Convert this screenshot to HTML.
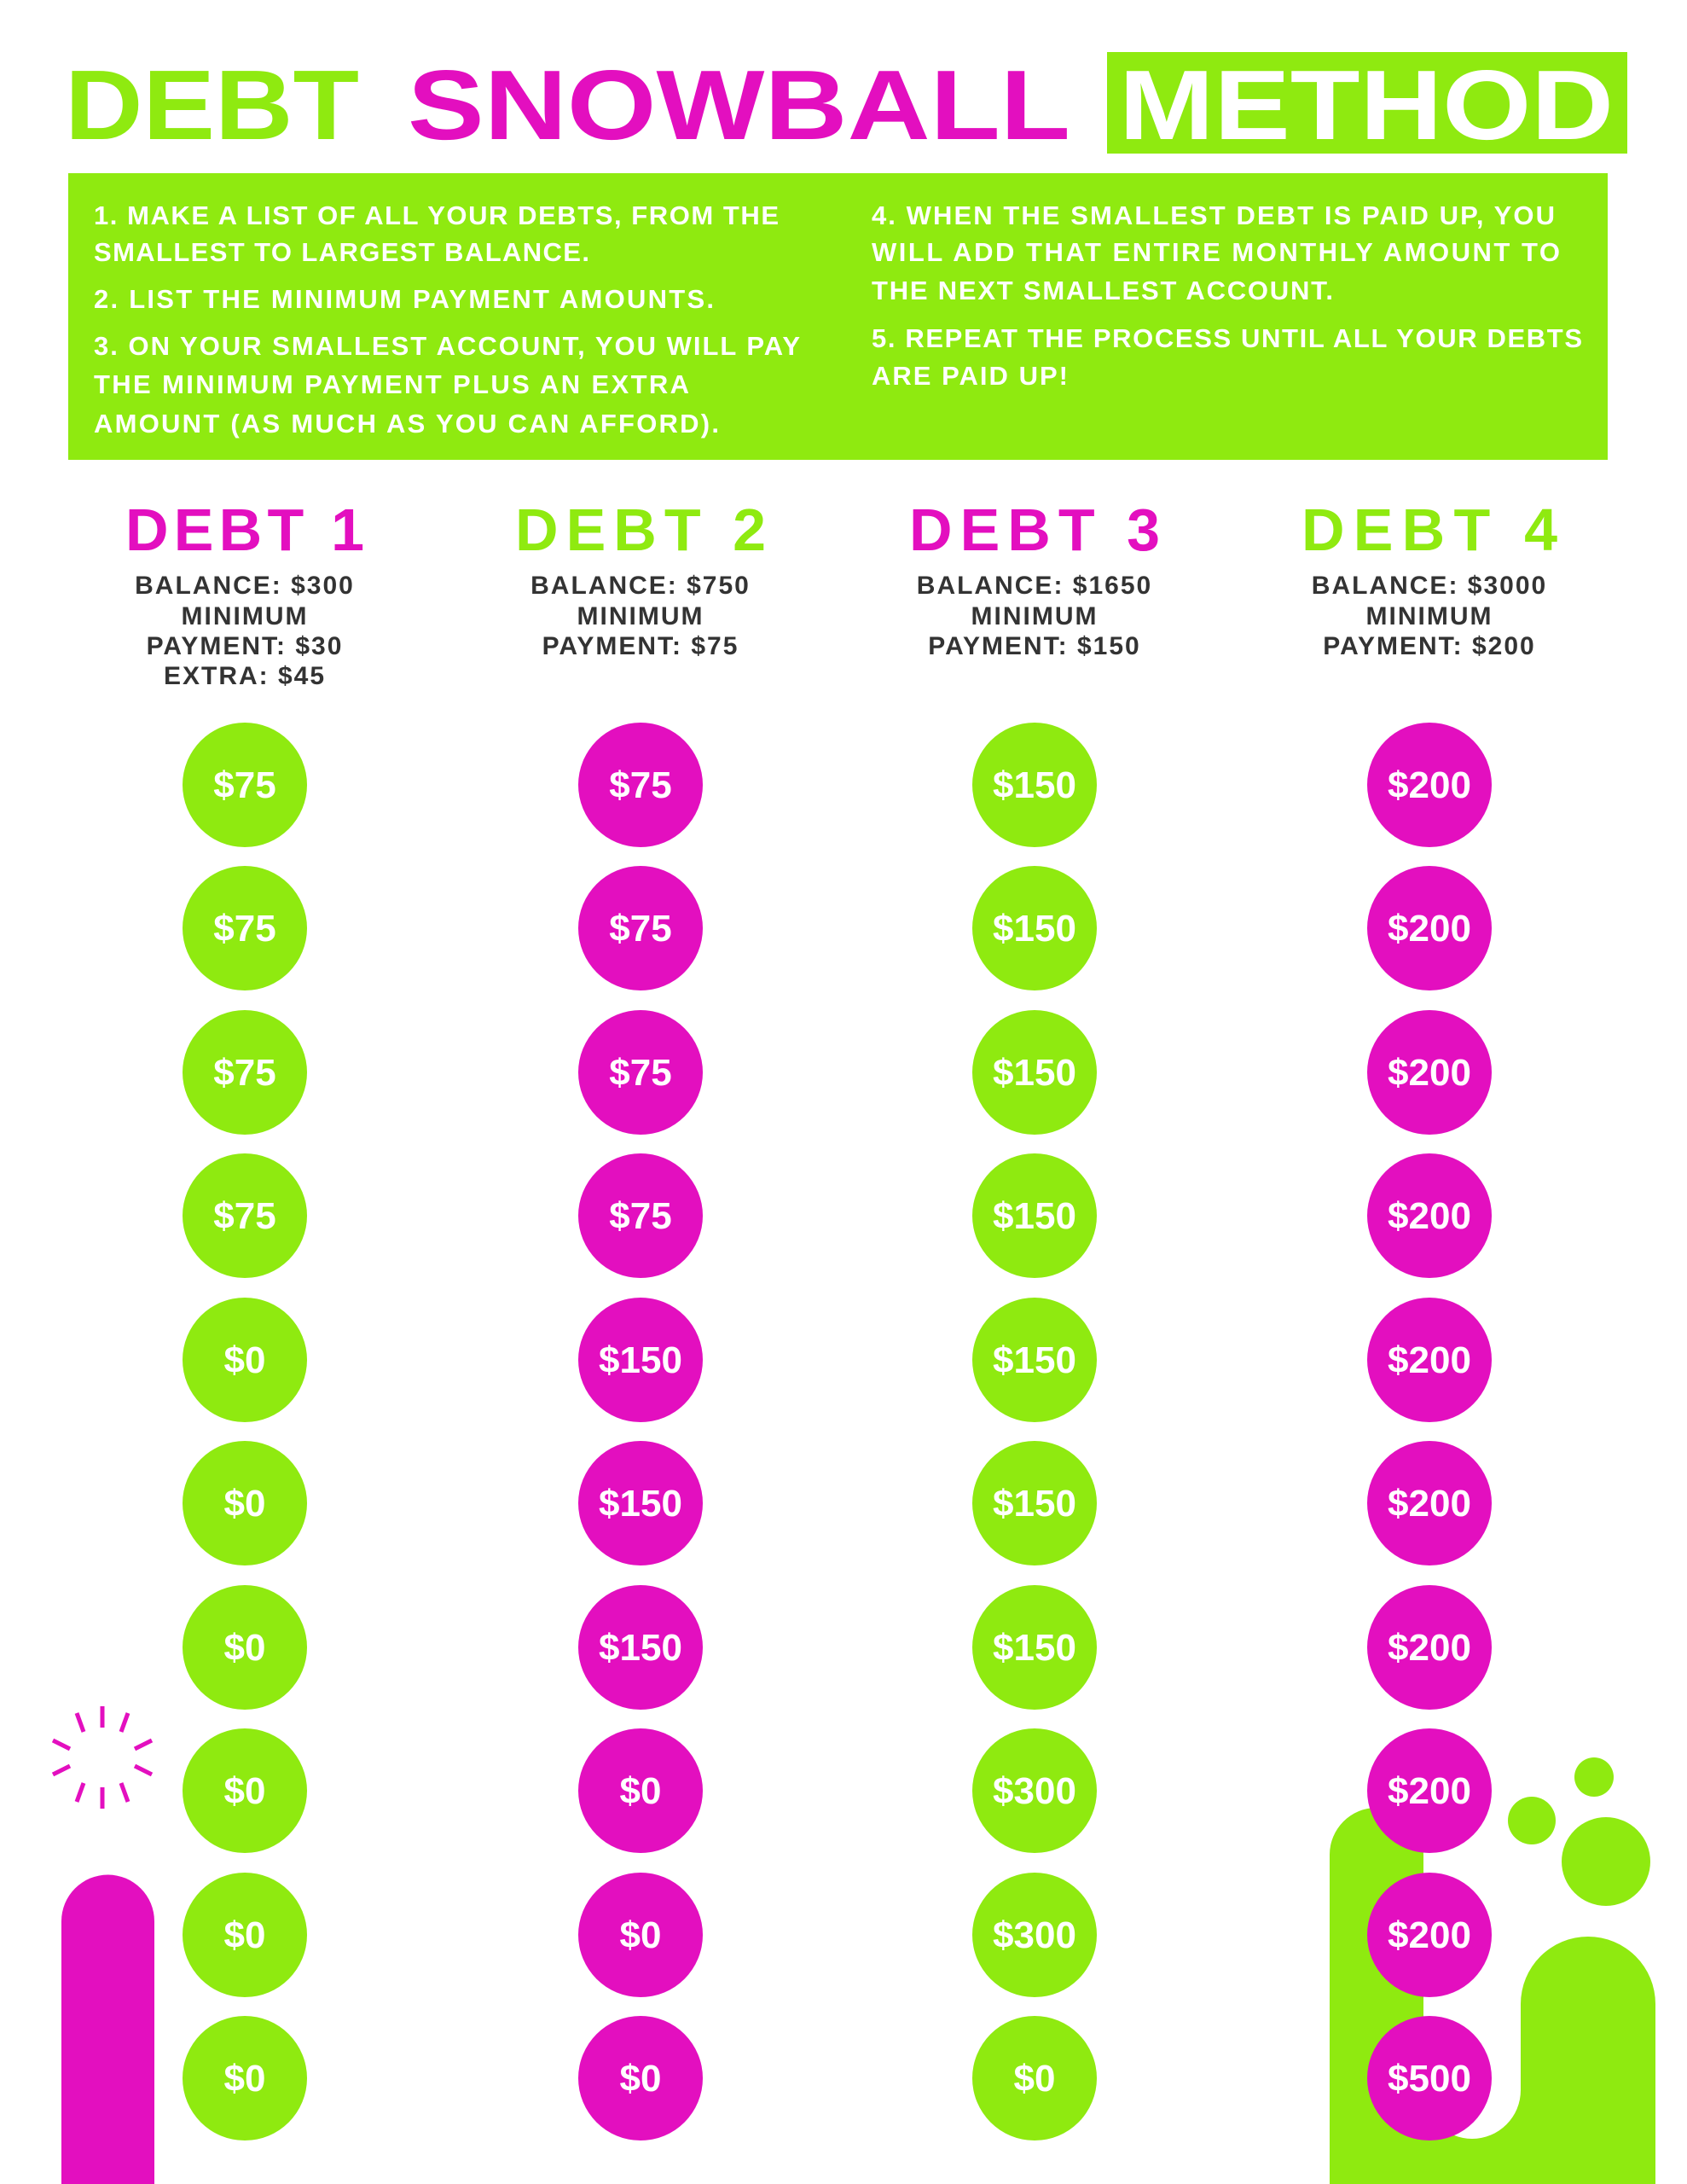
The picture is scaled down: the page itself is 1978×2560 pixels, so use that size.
<!DOCTYPE html>
<html><head><meta charset="utf-8"><style>html,body{margin:0;padding:0;background:#fff}svg{display:block}</style></head>
<body>
<svg width="1978" height="2560" viewBox="0 0 1978 2560" xmlns="http://www.w3.org/2000/svg" font-family="'Liberation Sans', sans-serif" font-weight="bold">
<rect width="1978" height="2560" fill="#fff"/>
<text x="76" y="163" font-size="116" fill="#8fea10" textLength="345" lengthAdjust="spacingAndGlyphs">DEBT</text>
<text x="478" y="163" font-size="116" fill="#e30fbf" textLength="777" lengthAdjust="spacingAndGlyphs">SNOWBALL</text>
<rect x="1298" y="61" width="610" height="119" fill="#8fea10"/>
<text x="1312" y="163" font-size="116" fill="#fff" textLength="580" lengthAdjust="spacingAndGlyphs">METHOD</text>
<rect x="80" y="203" width="1805" height="336" fill="#8fea10"/>
<g font-size="31" fill="#fff" lengthAdjust="spacingAndGlyphs">
<text x="110" y="263" textLength="803">1. MAKE A LIST OF ALL YOUR DEBTS, FROM THE</text>
<text x="110" y="306" textLength="581">SMALLEST TO LARGEST BALANCE.</text>
<text x="110" y="361" textLength="727">2. LIST THE MINIMUM PAYMENT AMOUNTS.</text>
<text x="110" y="416" textLength="828">3. ON YOUR SMALLEST ACCOUNT, YOU WILL PAY</text>
<text x="110" y="461" textLength="698">THE MINIMUM PAYMENT PLUS AN EXTRA</text>
<text x="110" y="507" textLength="733">AMOUNT (AS MUCH AS YOU CAN AFFORD).</text>
<text x="1022" y="263" textLength="801">4. WHEN THE SMALLEST DEBT IS PAID UP, YOU</text>
<text x="1022" y="306" textLength="807">WILL ADD THAT ENTIRE MONTHLY AMOUNT TO</text>
<text x="1022" y="351" textLength="541">THE NEXT SMALLEST ACCOUNT.</text>
<text x="1022" y="407" textLength="833">5. REPEAT THE PROCESS UNTIL ALL YOUR DEBTS</text>
<text x="1022" y="451" textLength="230">ARE PAID UP!</text>
</g>
<g font-size="70" text-anchor="middle" lengthAdjust="spacingAndGlyphs">
<text x="287" y="645" fill="#e30fbf" textLength="280">DEBT 1</text>
<text x="751" y="645" fill="#8fea10" textLength="294">DEBT 2</text>
<text x="1213" y="645" fill="#e30fbf" textLength="294">DEBT 3</text>
<text x="1676" y="645" fill="#8fea10" textLength="300">DEBT 4</text>
</g>
<g font-size="30" text-anchor="middle" fill="#333" letter-spacing="2">
<text x="287" y="696">BALANCE: $300</text><text x="287" y="732">MINIMUM</text><text x="287" y="767">PAYMENT: $30</text><text x="287" y="802">EXTRA: $45</text>
<text x="751" y="696">BALANCE: $750</text><text x="751" y="732">MINIMUM</text><text x="751" y="767">PAYMENT: $75</text>
<text x="1213" y="696">BALANCE: $1650</text><text x="1213" y="732">MINIMUM</text><text x="1213" y="767">PAYMENT: $150</text>
<text x="1676" y="696">BALANCE: $3000</text><text x="1676" y="732">MINIMUM</text><text x="1676" y="767">PAYMENT: $200</text>
</g>
<path d="M72 2560 V2252 a54.5 54.5 0 0 1 109 0 V2560 Z" fill="#e30fbf"/>
<g stroke="#e30fbf" stroke-width="5">
<line x1="120" y1="2000" x2="120" y2="2025"/><line x1="120" y1="2095" x2="120" y2="2120"/>
<line x1="90" y1="2008" x2="98" y2="2030"/><line x1="150" y1="2008" x2="142" y2="2030"/>
<line x1="90" y1="2112" x2="98" y2="2090"/><line x1="150" y1="2112" x2="142" y2="2090"/>
<line x1="62" y1="2040" x2="82" y2="2050"/><line x1="178" y1="2040" x2="158" y2="2050"/>
<line x1="62" y1="2080" x2="82" y2="2070"/><line x1="178" y1="2080" x2="158" y2="2070"/>
</g>
<g fill="#8fea10">
<path d="M1559 2560 V2174 a55 55 0 0 1 110 0 V2450 a57 57 0 0 0 114 0 V2349 a79 79 0 0 1 158 0 V2560 Z"/>
<circle cx="1869" cy="2083" r="23"/>
<circle cx="1796" cy="2134" r="28"/>
<circle cx="1883" cy="2182" r="52"/>
</g>
<g text-anchor="middle" font-size="44" fill="#fff">
<circle cx="287" cy="920" r="73" fill="#8fea10"/><text x="287" y="935">$75</text>
<circle cx="287" cy="1088" r="73" fill="#8fea10"/><text x="287" y="1103">$75</text>
<circle cx="287" cy="1257" r="73" fill="#8fea10"/><text x="287" y="1272">$75</text>
<circle cx="287" cy="1425" r="73" fill="#8fea10"/><text x="287" y="1440">$75</text>
<circle cx="287" cy="1594" r="73" fill="#8fea10"/><text x="287" y="1609">$0</text>
<circle cx="287" cy="1762" r="73" fill="#8fea10"/><text x="287" y="1777">$0</text>
<circle cx="287" cy="1931" r="73" fill="#8fea10"/><text x="287" y="1946">$0</text>
<circle cx="287" cy="2099" r="73" fill="#8fea10"/><text x="287" y="2114">$0</text>
<circle cx="287" cy="2268" r="73" fill="#8fea10"/><text x="287" y="2283">$0</text>
<circle cx="287" cy="2436" r="73" fill="#8fea10"/><text x="287" y="2451">$0</text>
<circle cx="751" cy="920" r="73" fill="#e30fbf"/><text x="751" y="935">$75</text>
<circle cx="751" cy="1088" r="73" fill="#e30fbf"/><text x="751" y="1103">$75</text>
<circle cx="751" cy="1257" r="73" fill="#e30fbf"/><text x="751" y="1272">$75</text>
<circle cx="751" cy="1425" r="73" fill="#e30fbf"/><text x="751" y="1440">$75</text>
<circle cx="751" cy="1594" r="73" fill="#e30fbf"/><text x="751" y="1609">$150</text>
<circle cx="751" cy="1762" r="73" fill="#e30fbf"/><text x="751" y="1777">$150</text>
<circle cx="751" cy="1931" r="73" fill="#e30fbf"/><text x="751" y="1946">$150</text>
<circle cx="751" cy="2099" r="73" fill="#e30fbf"/><text x="751" y="2114">$0</text>
<circle cx="751" cy="2268" r="73" fill="#e30fbf"/><text x="751" y="2283">$0</text>
<circle cx="751" cy="2436" r="73" fill="#e30fbf"/><text x="751" y="2451">$0</text>
<circle cx="1213" cy="920" r="73" fill="#8fea10"/><text x="1213" y="935">$150</text>
<circle cx="1213" cy="1088" r="73" fill="#8fea10"/><text x="1213" y="1103">$150</text>
<circle cx="1213" cy="1257" r="73" fill="#8fea10"/><text x="1213" y="1272">$150</text>
<circle cx="1213" cy="1425" r="73" fill="#8fea10"/><text x="1213" y="1440">$150</text>
<circle cx="1213" cy="1594" r="73" fill="#8fea10"/><text x="1213" y="1609">$150</text>
<circle cx="1213" cy="1762" r="73" fill="#8fea10"/><text x="1213" y="1777">$150</text>
<circle cx="1213" cy="1931" r="73" fill="#8fea10"/><text x="1213" y="1946">$150</text>
<circle cx="1213" cy="2099" r="73" fill="#8fea10"/><text x="1213" y="2114">$300</text>
<circle cx="1213" cy="2268" r="73" fill="#8fea10"/><text x="1213" y="2283">$300</text>
<circle cx="1213" cy="2436" r="73" fill="#8fea10"/><text x="1213" y="2451">$0</text>
<circle cx="1676" cy="920" r="73" fill="#e30fbf"/><text x="1676" y="935">$200</text>
<circle cx="1676" cy="1088" r="73" fill="#e30fbf"/><text x="1676" y="1103">$200</text>
<circle cx="1676" cy="1257" r="73" fill="#e30fbf"/><text x="1676" y="1272">$200</text>
<circle cx="1676" cy="1425" r="73" fill="#e30fbf"/><text x="1676" y="1440">$200</text>
<circle cx="1676" cy="1594" r="73" fill="#e30fbf"/><text x="1676" y="1609">$200</text>
<circle cx="1676" cy="1762" r="73" fill="#e30fbf"/><text x="1676" y="1777">$200</text>
<circle cx="1676" cy="1931" r="73" fill="#e30fbf"/><text x="1676" y="1946">$200</text>
<circle cx="1676" cy="2099" r="73" fill="#e30fbf"/><text x="1676" y="2114">$200</text>
<circle cx="1676" cy="2268" r="73" fill="#e30fbf"/><text x="1676" y="2283">$200</text>
<circle cx="1676" cy="2436" r="73" fill="#e30fbf"/><text x="1676" y="2451">$500</text>
</g>
</svg>
</body></html>
